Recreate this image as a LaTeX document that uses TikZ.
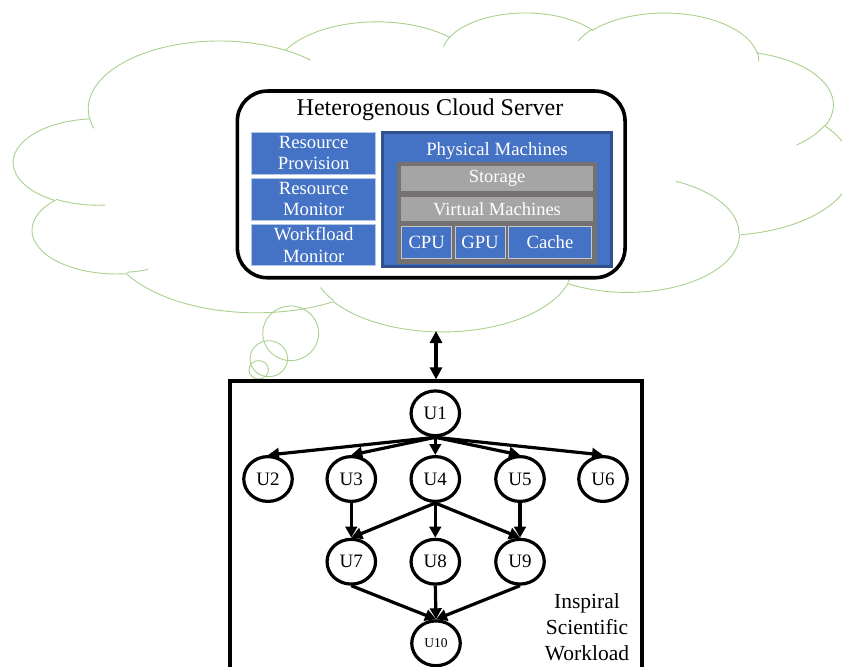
\documentclass[tikz,border=0pt]{standalone}
\usepackage{fontspec}
\setmainfont{Liberation Serif}
\usetikzlibrary{arrows.meta,shapes.geometric}
\definecolor{cloudgreen}{RGB}{169,209,142}
\definecolor{boxblue}{RGB}{68,114,196}
\definecolor{darkblue}{RGB}{47,82,143}
\definecolor{lightblue}{RGB}{180,199,231}
\definecolor{boxgray}{RGB}{165,165,165}
\definecolor{contgray}{RGB}{118,113,113}
\definecolor{edgegray}{RGB}{200,200,200}
\begin{document}
\begin{tikzpicture}[x=1pt,y=-1pt,
  cloudline/.style={draw=cloudgreen, line width=0.9pt},
  serverbox/.style={draw, line width=3.6pt, rounded corners=30pt, fill=white, inner sep=0pt},
  bluebox/.style={draw=lightblue, line width=0.8pt, fill=boxblue, text=white, align=center,
    inner sep=0pt, font=\fontsize{18.7}{21.3}\selectfont},
  graybox/.style={draw=contgray, line width=0.8pt, fill=boxgray, text=white, align=center,
    inner sep=0pt, font=\fontsize{18.5}{21}\selectfont},
  unode/.style={draw, ellipse, line width=3.2pt, minimum width=48.5pt, minimum height=44.8pt,
    inner sep=0pt, fill=white, font=\fontsize{19}{21}\selectfont},
  flow/.style={line width=3.2pt, -{Triangle[length=11pt,width=11.5pt]}},
  dblarrow/.style={line width=3.3pt, {Triangle[length=12pt,width=12pt]}-{Triangle[length=12pt,width=12pt]}}
]
\useasboundingbox (0,0) rectangle (842,666);

% cloud (PowerPoint cloud geometry, units of 1/100 of the 43200 grid)
\begin{scope}[shift={(13.8,11.9)}, xscale=1.94, yscale=0.738]
\draw[cloudline, fill=white] (39,143.7)
 arc[start angle=172.25, delta angle=128.12, x radius=67.53, y radius=91.90]
 arc[start angle=-152.02, delta angle=106.60, x radius=53.33, y radius=72.67]
 arc[start angle=-153.49, delta angle=116.17, x radius=43.65, y radius=59.45]
 arc[start angle=-139.69, delta angle=129.48, x radius=48.57, y radius=65.95]
 arc[start angle=-74.77, delta angle=97.98, x radius=53.33, y radius=72.73]
 arc[start angle=-37.53, delta angle=119.39, x radius=67.75, y radius=92.20]
 arc[start angle=0.46, delta angle=121.52, x radius=57.85, y radius=78.67]
 arc[start angle=16.85, delta angle=129.42, x radius=67.52, y radius=92.15]
 arc[start angle=58.98, delta angle=91.22, x radius=77.20, y radius=105.43]
 arc[start angle=83.31, delta angle=139.82, x radius=43.60, y radius=59.18]
 arc[start angle=120.36, delta angle=143.75, x radius=43.45, y radius=59.45]
 -- cycle;
\draw[cloudline]
 (46.93,261.77) arc[start angle=85.55, delta angle=34.82, x radius=43.45, y radius=59.45]
 (69.28,348.99) arc[start angle=68.23, delta angle=15.08, x radius=43.60, y radius=59.18]
 (164.78,390.90) arc[start angle=146.27, delta angle=12.20, x radius=67.52, y radius=92.15]
 (288.27,347.51) arc[start angle=4.74, delta angle=12.11, x radius=67.52, y radius=92.15]
 (341.29,229.54) arc[start angle=-64.03, delta angle=64.49, x radius=57.85, y radius=78.67]
 (417.98,153.54) arc[start angle=23.21, delta angle=26.43, x radius=53.33, y radius=72.73]
 (383.24,54.26) arc[start angle=-10.21, delta angle=11.03, x radius=48.57, y radius=65.95]
 (290.78,39.52) arc[start angle=-156.29, delta angle=16.60, x radius=48.57, y radius=65.95]
 (221.41,47.20) arc[start angle=-167.73, delta angle=14.24, x radius=43.65, y radius=59.45]
 (140.00,51.92) arc[start angle=-59.63, delta angle=13.93, x radius=67.53, y radius=91.90]
 (41.27,157.89) arc[start angle=163.19, delta angle=9.06, x radius=67.53, y radius=91.90];
\end{scope}
% thought bubbles
\draw[cloudline] (290.7,333.3) ellipse [x radius=28, y radius=27.3];
\draw[cloudline] (268.8,358.7) ellipse [x radius=18.8, y radius=18];
\draw[cloudline] (258.7,369.8) ellipse [x radius=9.7, y radius=9.2];

% server
\node[serverbox, minimum width=387.7pt, minimum height=186.7pt] (server) at (431.2,184.4) {};
\node[font=\fontsize{24}{28}\selectfont] (title) at (430,110) {Heterogenous Cloud Server};
\node[bluebox, minimum width=124pt, minimum height=41.3pt] (rp) at (313.7,153.3) {Resource\\Provision};
\node[bluebox, minimum width=124pt, minimum height=41.3pt] (rm) at (313.7,199.3) {Resource\\Monitor};
\node[bluebox, minimum width=124pt, minimum height=41.3pt] (wm) at (313.7,245) {Workfload\\Monitor};
\node[draw=darkblue, line width=3pt, fill=boxblue, minimum width=229.6pt, minimum height=133.7pt, inner sep=0pt] (pm) at (497,199.3) {};
\node[text=white, font=\fontsize{18.8}{21}\selectfont] (pmt) at (497,151) {Physical Machines};
\node[fill=contgray, minimum width=200pt, minimum height=102.3pt, inner sep=0pt] (cont) at (496.7,212.8) {};
\node[graybox, minimum width=192.6pt, minimum height=26pt] (storage) at (497,178) {Storage};
\node[graybox, minimum width=192.6pt, minimum height=25.7pt] (vm) at (497,208.8) {Virtual Machines};
\node[bluebox, draw=edgegray, minimum width=50pt, minimum height=31.6pt] (cpu) at (426.7,242.5) {CPU};
\node[bluebox, draw=edgegray, minimum width=50pt, minimum height=31.6pt] (gpu) at (480,242.5) {GPU};
\node[bluebox, draw=edgegray, minimum width=83.4pt, minimum height=31.6pt] (cache) at (550,242.5) {Cache};

% workload box
\node[draw, line width=3.2pt, minimum width=412pt, minimum height=320pt, inner sep=0pt] (wl) at (436,541) {};
\coordinate (cb) at (436,331);
\draw[dblarrow] (cb) -- (wl.north);

\node[unode] (U1) at (435.3,413.3) {U1};
\node[unode] (U2) at (268,479) {U2};
\node[unode] (U3) at (351.3,479) {U3};
\node[unode] (U4) at (435.3,479) {U4};
\node[unode] (U5) at (520,479) {U5};
\node[unode] (U6) at (603,479) {U6};
\node[unode] (U7) at (351.3,561.7) {U7};
\node[unode] (U8) at (435.3,561.7) {U8};
\node[unode] (U9) at (520,561.7) {U9};
\node[unode, font=\fontsize{13.5}{15}\selectfont] (U10) at (436,643.3) {U10};

\foreach \t in {U2,U3,U4,U5,U6} \draw[flow] (U1.south) -- (\t.north);
\draw[flow] (U3.south) -- (U7.north);
\draw[flow] (U5.south) -- (U9.north);
\foreach \t in {U7,U8,U9} \draw[flow] (U4.south) -- (\t.north);
\foreach \s in {U7,U8,U9} \draw[flow] (\s.south) -- (U10.north);

\node[align=center, font=\fontsize{21.5}{26}\selectfont] (label) at (587,627) {Inspiral\\Scientific\\Workload};
\end{tikzpicture}
\end{document}
